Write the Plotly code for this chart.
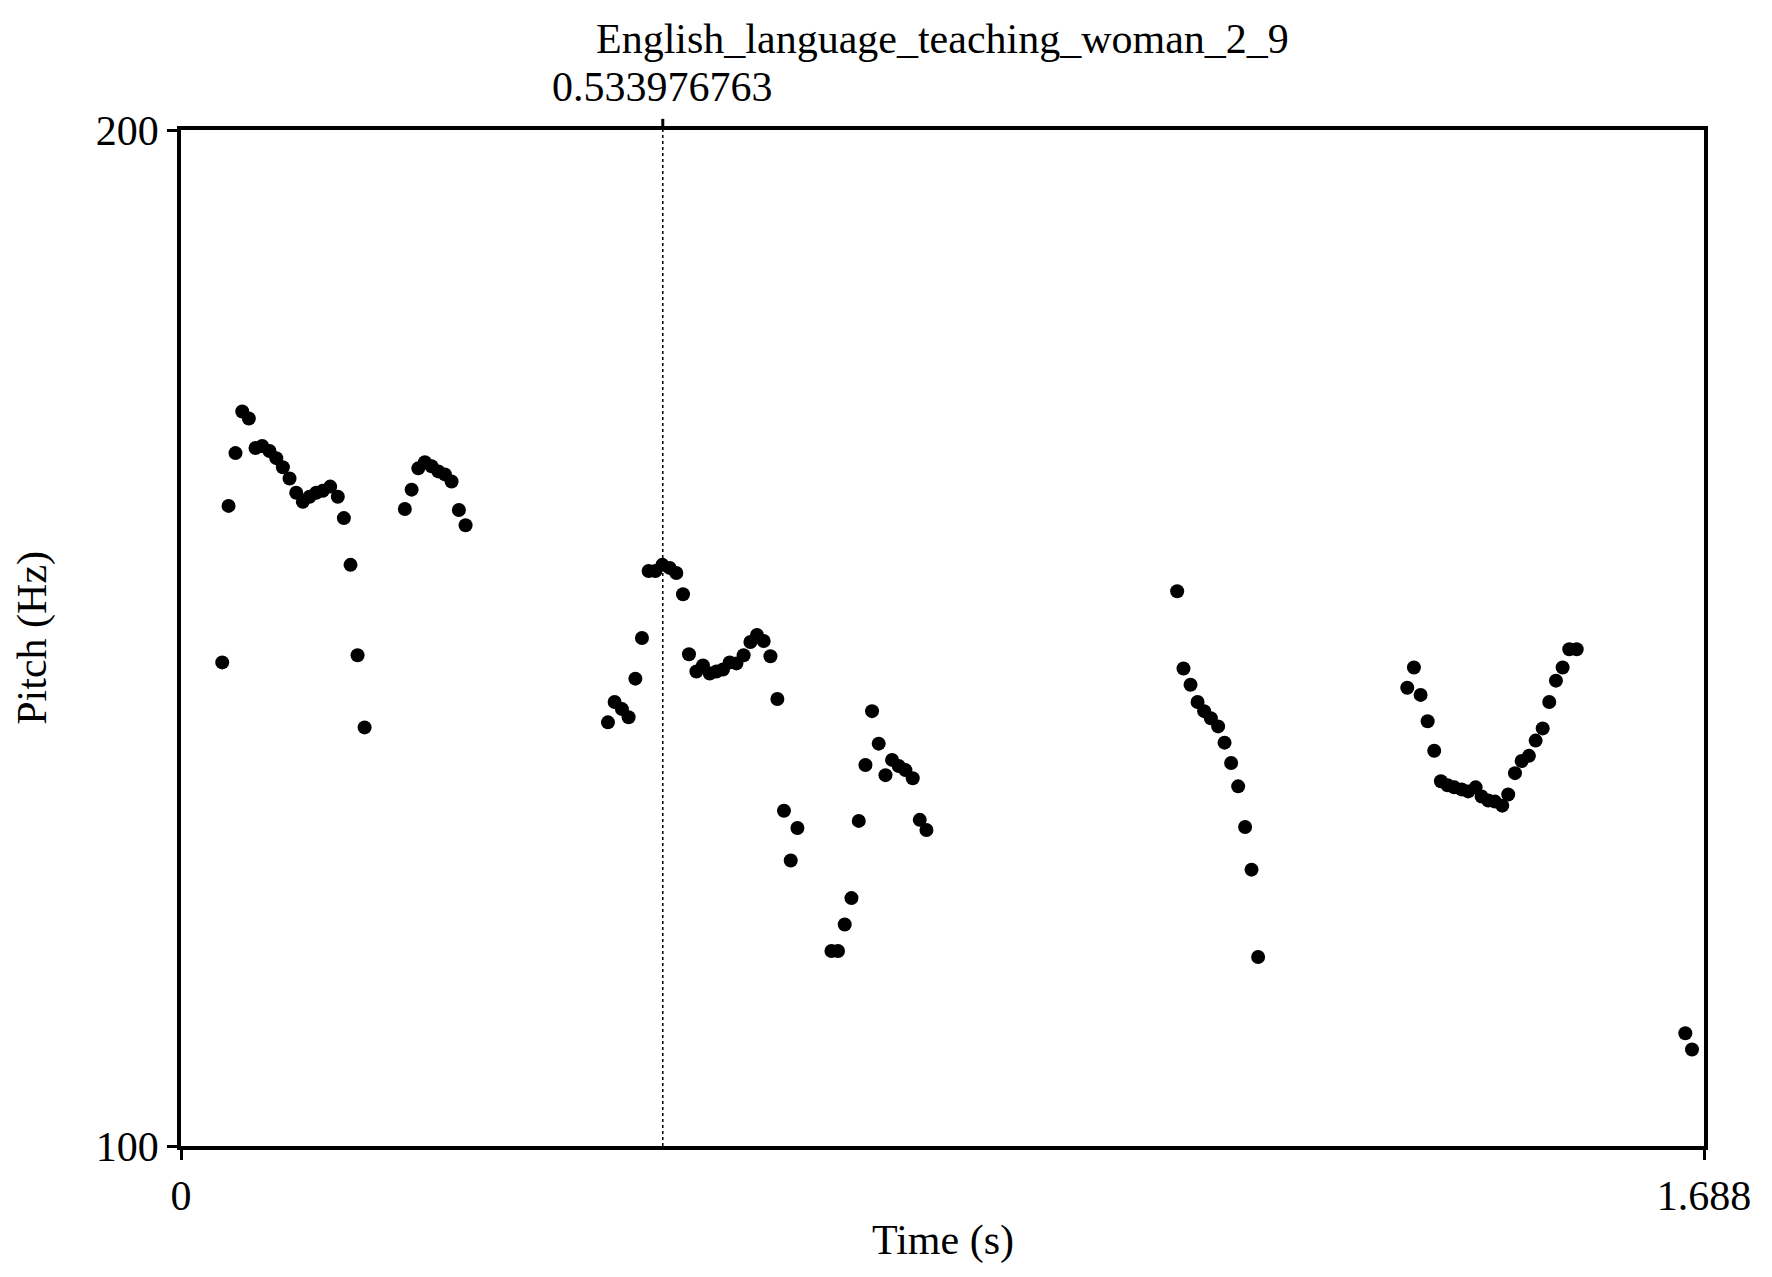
import plotly.graph_objects as go

# pitch track (s, Hz)
time_s = [
    0.0457, 0.0527, 0.0604, 0.0679, 0.0752, 0.0826, 0.0900, 0.0981, 0.1056, 0.1129,
    0.1203, 0.1277, 0.1350, 0.1425, 0.1499, 0.1572, 0.1654, 0.1738, 0.1805, 0.1879,
    0.1957, 0.2035,
    0.2481, 0.2556, 0.2630, 0.2703, 0.2777, 0.2852, 0.2925, 0.2999, 0.3080, 0.3154,
    0.4732, 0.4806, 0.4887, 0.4961, 0.5036, 0.5109, 0.5183, 0.5258, 0.5335, 0.5416,
    0.5490, 0.5564, 0.5630, 0.5712, 0.5785, 0.5860, 0.5934, 0.6007, 0.6081, 0.6156,
    0.6236, 0.6311, 0.6384, 0.6458, 0.6533, 0.6610, 0.6683, 0.6758, 0.6832,
    0.7209, 0.7282, 0.7356, 0.7431, 0.7512, 0.7586, 0.7659, 0.7733, 0.7808, 0.7881,
    0.7955, 0.8029, 0.8110, 0.8188, 0.8262,
    1.1041, 1.1111, 1.1189, 1.1267, 1.1340, 1.1414, 1.1495, 1.1566, 1.1639, 1.1717,
    1.1794, 1.1865, 1.1938,
    1.3591, 1.3665, 1.3739, 1.3817, 1.3890, 1.3964, 1.4038, 1.4112, 1.4194, 1.4267,
    1.4349, 1.4415, 1.4489, 1.4563, 1.4644, 1.4710, 1.4785, 1.4859, 1.4940, 1.5014,
    1.5092, 1.5165, 1.5239, 1.5313, 1.5387, 1.5469,
    1.6673, 1.6747,
]
pitch_hz = [
    147.6, 163.0, 168.2, 172.3, 171.6, 168.7, 168.9, 168.4, 167.7, 166.8,
    165.7, 164.3, 163.4, 163.9, 164.3, 164.5, 164.9, 163.9, 161.8, 157.2,
    148.3, 141.2,
    162.7, 164.6, 166.7, 167.3, 166.9, 166.4, 166.1, 165.4, 162.6, 161.1,
    141.7, 143.7, 143.0, 142.2, 146.0, 150.0, 156.6, 156.6, 157.2, 156.9,
    156.4, 154.3, 148.4, 146.7, 147.3, 146.5, 146.7, 146.9, 147.6, 147.5,
    148.3, 149.6, 150.3, 149.7, 148.2, 144.0, 133.0, 128.1, 131.3,
    119.2, 119.2, 121.8, 124.4, 132.0, 137.5, 142.8, 139.6, 136.5, 138.0,
    137.4, 137.0, 136.2, 132.1, 131.1,
    154.6, 147.0, 145.4, 143.7, 142.8, 142.1, 141.3, 139.7, 137.7, 135.4,
    131.4, 127.2, 118.6,
    145.1, 147.1, 144.4, 141.8, 138.9, 135.9, 135.5, 135.3, 135.1, 134.9,
    135.3, 134.4, 134.0, 133.9, 133.5, 134.6, 136.7, 137.9, 138.4, 139.9,
    141.1, 143.7, 145.8, 147.1, 148.9, 148.9,
    111.1, 109.5,
]

t_min, t_max = 0, 1.688
f_min, f_max = 100, 200
cursor_t = 0.533976763
title = "English_language_teaching_woman_2_9"

FONT = "Liberation Serif"
FS = 42

fig = go.Figure()
fig.add_trace(go.Scatter(
    x=time_s, y=pitch_hz, mode="markers",
    marker=dict(color="black", size=14, line=dict(width=0)),
    hoverinfo="x+y", showlegend=False,
))

# dotted cursor line + its tick on top
fig.add_shape(type="line", xref="x", yref="paper", x0=cursor_t, x1=cursor_t,
              y0=0, y1=1, line=dict(color="black", width=1.5, dash="dot"))
fig.add_shape(type="line", xref="x", yref="paper", x0=cursor_t, x1=cursor_t,
              y0=1, y1=1.011, line=dict(color="black", width=3))

fig.add_annotation(x=cursor_t, xref="x", y=1.018, yref="paper", yanchor="bottom",
                   text=f"{cursor_t}", showarrow=False,
                   font=dict(family=FONT, size=FS, color="black"))
fig.add_annotation(x=0.5, xref="paper", y=1.065, yref="paper", yanchor="bottom",
                   text=title, showarrow=False,
                   font=dict(family=FONT, size=FS, color="black"))
fig.add_annotation(x=0.5, xref="paper", y=-0.093, yref="paper", yanchor="middle",
                   text="Time (s)", showarrow=False,
                   font=dict(family=FONT, size=FS, color="black"))
fig.add_annotation(x=-0.098, xref="paper", y=0.5, yref="paper", xanchor="center",
                   text="Pitch (Hz)", textangle=-90, showarrow=False,
                   font=dict(family=FONT, size=FS, color="black"))

fig.update_xaxes(range=[t_min, t_max], tickvals=[t_min, t_max], ticktext=["0", "1.688"],
                 ticks="outside", ticklen=10, tickwidth=3, tickcolor="black",
                 showline=True, linewidth=3.5, linecolor="black", mirror=True,
                 showgrid=False, zeroline=False,
                 tickfont=dict(family=FONT, size=FS, color="black"))
fig.update_yaxes(range=[f_min, f_max], tickvals=[f_min, f_max], ticktext=["100", "200"],
                 ticks="outside", ticklen=10, tickwidth=3, tickcolor="black",
                 showline=True, linewidth=3.5, linecolor="black", mirror=True,
                 showgrid=False, zeroline=False,
                 tickfont=dict(family=FONT, size=FS, color="black"))

# page body has an 8px margin, so margins are shifted to land the frame in place
fig.update_layout(
    width=1772, height=1277,
    margin=dict(l=173, r=76, t=122, b=139, autoexpand=False),
    plot_bgcolor="white", paper_bgcolor="white",
    font=dict(family=FONT, size=FS, color="black"),
)

fig.write_html("out.html")
